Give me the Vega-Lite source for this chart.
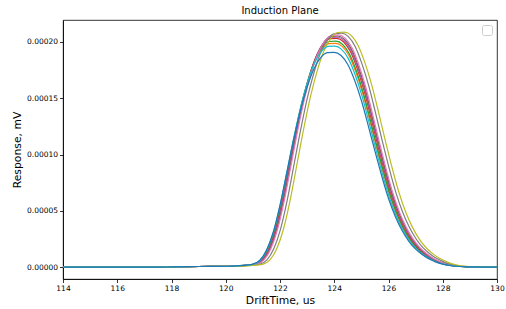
{
"$schema": "https://vega.github.io/schema/vega-lite/v6.json",
"width": 434,
"height": 259,
"autosize": {"type": "none"},
"padding": {"left": 63, "top": 20, "right": 9, "bottom": 30},
"background": "white",
"title": {"text": "Induction Plane", "fontSize": 10, "font": "DejaVu Sans", "fontWeight": "normal", "color": "black", "offset": 4},
"config": {"view": {"stroke": "black", "strokeWidth": 0.8}, "font": "DejaVu Sans"},
"data": {"values": [
{"s":"s01","t":114,"v":0},{"s":"s01","t":117.5,"v":0},{"s":"s01","t":118,"v":0.03e-5},{"s":"s01","t":119,"v":0.06e-5},{"s":"s01","t":120,"v":0.08e-5},
{"s":"s01","t":120.30,"v":0.10e-5},{"s":"s01","t":120.55,"v":0.13e-5},{"s":"s01","t":120.80,"v":0.18e-5},{"s":"s01","t":121.05,"v":0.27e-5},{"s":"s01","t":121.30,"v":0.625e-5},{"s":"s01","t":121.55,"v":1.563e-5},{"s":"s01","t":121.80,"v":3.230e-5},{"s":"s01","t":122.05,"v":5.731e-5},{"s":"s01","t":122.30,"v":8.753e-5},{"s":"s01","t":122.55,"v":11.775e-5},{"s":"s01","t":122.80,"v":14.484e-5},{"s":"s01","t":123.05,"v":16.672e-5},{"s":"s01","t":123.30,"v":18.339e-5},{"s":"s01","t":123.55,"v":19.381e-5},{"s":"s01","t":123.80,"v":19.850e-5},{"s":"s01","t":124.05,"v":19.881e-5},{"s":"s01","t":124.30,"v":19.590e-5},{"s":"s01","t":124.55,"v":18.756e-5},{"s":"s01","t":124.80,"v":17.297e-5},{"s":"s01","t":125.05,"v":15.422e-5},{"s":"s01","t":125.30,"v":13.129e-5},{"s":"s01","t":125.55,"v":10.733e-5},{"s":"s01","t":125.80,"v":8.440e-5},{"s":"s01","t":126.05,"v":6.356e-5},{"s":"s01","t":126.30,"v":4.689e-5},{"s":"s01","t":126.55,"v":3.387e-5},{"s":"s01","t":126.80,"v":2.397e-5},{"s":"s01","t":127.05,"v":1.667e-5},{"s":"s01","t":127.30,"v":1.146e-5},{"s":"s01","t":127.55,"v":0.750e-5},{"s":"s01","t":127.80,"v":0.469e-5},{"s":"s01","t":128.05,"v":0.27e-5},{"s":"s01","t":128.30,"v":0.15e-5},{"s":"s01","t":128.55,"v":0.08e-5},{"s":"s01","t":128.80,"v":0.04e-5},{"s":"s01","t":129.05,"v":0.02e-5},{"s":"s01","t":130,"v":0},

{"s":"s02","t":114,"v":0},{"s":"s02","t":117.5,"v":0},{"s":"s02","t":118,"v":0.03e-5},{"s":"s02","t":119,"v":0.06e-5},{"s":"s02","t":120,"v":0.08e-5},
{"s":"s02","t":120.31,"v":0.10e-5},{"s":"s02","t":120.56,"v":0.13e-5},{"s":"s02","t":120.81,"v":0.18e-5},{"s":"s02","t":121.06,"v":0.27e-5},{"s":"s02","t":121.31,"v":0.631e-5},{"s":"s02","t":121.56,"v":1.578e-5},{"s":"s02","t":121.81,"v":3.261e-5},{"s":"s02","t":122.06,"v":5.786e-5},{"s":"s02","t":122.31,"v":8.837e-5},{"s":"s02","t":122.56,"v":11.888e-5},{"s":"s02","t":122.81,"v":14.623e-5},{"s":"s02","t":123.06,"v":16.832e-5},{"s":"s02","t":123.31,"v":18.515e-5},{"s":"s02","t":123.56,"v":19.567e-5},{"s":"s02","t":123.81,"v":20.041e-5},{"s":"s02","t":124.06,"v":20.072e-5},{"s":"s02","t":124.31,"v":19.778e-5},{"s":"s02","t":124.56,"v":18.936e-5},{"s":"s02","t":124.81,"v":17.463e-5},{"s":"s02","t":125.06,"v":15.570e-5},{"s":"s02","t":125.31,"v":13.255e-5},{"s":"s02","t":125.56,"v":10.836e-5},{"s":"s02","t":125.81,"v":8.521e-5},{"s":"s02","t":126.06,"v":6.417e-5},{"s":"s02","t":126.31,"v":4.734e-5},{"s":"s02","t":126.56,"v":3.419e-5},{"s":"s02","t":126.81,"v":2.420e-5},{"s":"s02","t":127.06,"v":1.683e-5},{"s":"s02","t":127.31,"v":1.157e-5},{"s":"s02","t":127.56,"v":0.757e-5},{"s":"s02","t":127.81,"v":0.473e-5},{"s":"s02","t":128.06,"v":0.27e-5},{"s":"s02","t":128.31,"v":0.15e-5},{"s":"s02","t":128.56,"v":0.08e-5},{"s":"s02","t":128.81,"v":0.04e-5},{"s":"s02","t":129.06,"v":0.02e-5},{"s":"s02","t":130,"v":0},

{"s":"s03","t":114,"v":0},{"s":"s03","t":117.5,"v":0},{"s":"s03","t":118,"v":0.03e-5},{"s":"s03","t":119,"v":0.06e-5},{"s":"s03","t":120,"v":0.08e-5},
{"s":"s03","t":120.34,"v":0.10e-5},{"s":"s03","t":120.59,"v":0.13e-5},{"s":"s03","t":120.84,"v":0.18e-5},{"s":"s03","t":121.09,"v":0.27e-5},{"s":"s03","t":121.34,"v":0.639e-5},{"s":"s03","t":121.59,"v":1.598e-5},{"s":"s03","t":121.84,"v":3.302e-5},{"s":"s03","t":122.09,"v":5.858e-5},{"s":"s03","t":122.34,"v":8.946e-5},{"s":"s03","t":122.59,"v":12.035e-5},{"s":"s03","t":122.84,"v":14.804e-5},{"s":"s03","t":123.09,"v":17.04e-5},{"s":"s03","t":123.34,"v":18.744e-5},{"s":"s03","t":123.59,"v":19.809e-5},{"s":"s03","t":123.84,"v":20.288e-5},{"s":"s03","t":124.09,"v":20.320e-5},{"s":"s03","t":124.34,"v":20.022e-5},{"s":"s03","t":124.59,"v":19.17e-5},{"s":"s03","t":124.84,"v":17.679e-5},{"s":"s03","t":125.09,"v":15.762e-5},{"s":"s03","t":125.34,"v":13.419e-5},{"s":"s03","t":125.59,"v":10.970e-5},{"s":"s03","t":125.84,"v":8.627e-5},{"s":"s03","t":126.09,"v":6.497e-5},{"s":"s03","t":126.34,"v":4.793e-5},{"s":"s03","t":126.59,"v":3.461e-5},{"s":"s03","t":126.84,"v":2.450e-5},{"s":"s03","t":127.09,"v":1.704e-5},{"s":"s03","t":127.34,"v":1.172e-5},{"s":"s03","t":127.59,"v":0.767e-5},{"s":"s03","t":127.84,"v":0.479e-5},{"s":"s03","t":128.09,"v":0.27e-5},{"s":"s03","t":128.34,"v":0.15e-5},{"s":"s03","t":128.59,"v":0.08e-5},{"s":"s03","t":128.84,"v":0.04e-5},{"s":"s03","t":129.09,"v":0.02e-5},{"s":"s03","t":130,"v":0},

{"s":"s04","t":114,"v":0},{"s":"s04","t":117.5,"v":0},{"s":"s04","t":118,"v":0.03e-5},{"s":"s04","t":119,"v":0.06e-5},{"s":"s04","t":120,"v":0.08e-5},
{"s":"s04","t":120.36,"v":0.10e-5},{"s":"s04","t":120.61,"v":0.13e-5},{"s":"s04","t":120.86,"v":0.18e-5},{"s":"s04","t":121.11,"v":0.27e-5},{"s":"s04","t":121.36,"v":0.643e-5},{"s":"s04","t":121.61,"v":1.607e-5},{"s":"s04","t":121.86,"v":3.320e-5},{"s":"s04","t":122.11,"v":5.891e-5},{"s":"s04","t":122.36,"v":8.996e-5},{"s":"s04","t":122.61,"v":12.102e-5},{"s":"s04","t":122.86,"v":14.887e-5},{"s":"s04","t":123.11,"v":17.136e-5},{"s":"s04","t":123.36,"v":18.850e-5},{"s":"s04","t":123.61,"v":19.921e-5},{"s":"s04","t":123.86,"v":20.403e-5},{"s":"s04","t":124.11,"v":20.435e-5},{"s":"s04","t":124.36,"v":20.135e-5},{"s":"s04","t":124.61,"v":19.278e-5},{"s":"s04","t":124.86,"v":17.779e-5},{"s":"s04","t":125.11,"v":15.851e-5},{"s":"s04","t":125.36,"v":13.495e-5},{"s":"s04","t":125.61,"v":11.031e-5},{"s":"s04","t":125.86,"v":8.675e-5},{"s":"s04","t":126.11,"v":6.533e-5},{"s":"s04","t":126.36,"v":4.820e-5},{"s":"s04","t":126.61,"v":3.481e-5},{"s":"s04","t":126.86,"v":2.463e-5},{"s":"s04","t":127.11,"v":1.714e-5},{"s":"s04","t":127.36,"v":1.178e-5},{"s":"s04","t":127.61,"v":0.771e-5},{"s":"s04","t":127.86,"v":0.482e-5},{"s":"s04","t":128.11,"v":0.27e-5},{"s":"s04","t":128.36,"v":0.15e-5},{"s":"s04","t":128.61,"v":0.08e-5},{"s":"s04","t":128.86,"v":0.04e-5},{"s":"s04","t":129.11,"v":0.02e-5},{"s":"s04","t":130,"v":0},

{"s":"s05","t":114,"v":0},{"s":"s05","t":117.5,"v":0},{"s":"s05","t":118,"v":0.03e-5},{"s":"s05","t":119,"v":0.06e-5},{"s":"s05","t":120,"v":0.08e-5},
{"s":"s05","t":120.38,"v":0.10e-5},{"s":"s05","t":120.63,"v":0.13e-5},{"s":"s05","t":120.88,"v":0.18e-5},{"s":"s05","t":121.13,"v":0.27e-5},{"s":"s05","t":121.38,"v":0.646e-5},{"s":"s05","t":121.63,"v":1.614e-5},{"s":"s05","t":121.88,"v":3.336e-5},{"s":"s05","t":122.13,"v":5.918e-5},{"s":"s05","t":122.38,"v":9.038e-5},{"s":"s05","t":122.63,"v":12.159e-5},{"s":"s05","t":122.88,"v":14.956e-5},{"s":"s05","t":123.13,"v":17.216e-5},{"s":"s05","t":123.38,"v":18.938e-5},{"s":"s05","t":123.63,"v":20.014e-5},{"s":"s05","t":123.88,"v":20.498e-5},{"s":"s05","t":124.13,"v":20.530e-5},{"s":"s05","t":124.38,"v":20.229e-5},{"s":"s05","t":124.63,"v":19.368e-5},{"s":"s05","t":124.88,"v":17.862e-5},{"s":"s05","t":125.13,"v":15.925e-5},{"s":"s05","t":125.38,"v":13.558e-5},{"s":"s05","t":125.63,"v":11.083e-5},{"s":"s05","t":125.88,"v":8.716e-5},{"s":"s05","t":126.13,"v":6.564e-5},{"s":"s05","t":126.38,"v":4.842e-5},{"s":"s05","t":126.63,"v":3.497e-5},{"s":"s05","t":126.88,"v":2.475e-5},{"s":"s05","t":127.13,"v":1.722e-5},{"s":"s05","t":127.38,"v":1.184e-5},{"s":"s05","t":127.63,"v":0.775e-5},{"s":"s05","t":127.88,"v":0.484e-5},{"s":"s05","t":128.13,"v":0.27e-5},{"s":"s05","t":128.38,"v":0.15e-5},{"s":"s05","t":128.63,"v":0.08e-5},{"s":"s05","t":128.88,"v":0.04e-5},{"s":"s05","t":129.13,"v":0.02e-5},{"s":"s05","t":130,"v":0},

{"s":"s06","t":114,"v":0},{"s":"s06","t":117.5,"v":0},{"s":"s06","t":118,"v":0.03e-5},{"s":"s06","t":119,"v":0.06e-5},{"s":"s06","t":120,"v":0.08e-5},
{"s":"s06","t":120.41,"v":0.10e-5},{"s":"s06","t":120.66,"v":0.13e-5},{"s":"s06","t":120.91,"v":0.18e-5},{"s":"s06","t":121.16,"v":0.27e-5},{"s":"s06","t":121.41,"v":0.649e-5},{"s":"s06","t":121.66,"v":1.622e-5},{"s":"s06","t":121.91,"v":3.351e-5},{"s":"s06","t":122.16,"v":5.946e-5},{"s":"s06","t":122.41,"v":9.080e-5},{"s":"s06","t":122.66,"v":12.215e-5},{"s":"s06","t":122.91,"v":15.026e-5},{"s":"s06","t":123.16,"v":17.296e-5},{"s":"s06","t":123.41,"v":19.026e-5},{"s":"s06","t":123.66,"v":20.107e-5},{"s":"s06","t":123.91,"v":20.593e-5},{"s":"s06","t":124.16,"v":20.625e-5},{"s":"s06","t":124.41,"v":20.323e-5},{"s":"s06","t":124.66,"v":19.458e-5},{"s":"s06","t":124.91,"v":17.945e-5},{"s":"s06","t":125.16,"v":15.999e-5},{"s":"s06","t":125.41,"v":13.621e-5},{"s":"s06","t":125.66,"v":11.134e-5},{"s":"s06","t":125.91,"v":8.756e-5},{"s":"s06","t":126.16,"v":6.594e-5},{"s":"s06","t":126.41,"v":4.865e-5},{"s":"s06","t":126.66,"v":3.513e-5},{"s":"s06","t":126.91,"v":2.486e-5},{"s":"s06","t":127.16,"v":1.730e-5},{"s":"s06","t":127.41,"v":1.189e-5},{"s":"s06","t":127.66,"v":0.778e-5},{"s":"s06","t":127.91,"v":0.486e-5},{"s":"s06","t":128.16,"v":0.27e-5},{"s":"s06","t":128.41,"v":0.15e-5},{"s":"s06","t":128.66,"v":0.08e-5},{"s":"s06","t":128.91,"v":0.04e-5},{"s":"s06","t":129.16,"v":0.02e-5},{"s":"s06","t":130,"v":0},

{"s":"s07","t":114,"v":0},{"s":"s07","t":117.5,"v":0},{"s":"s07","t":118,"v":0.03e-5},{"s":"s07","t":119,"v":0.06e-5},{"s":"s07","t":120,"v":0.08e-5},
{"s":"s07","t":120.52,"v":0.10e-5},{"s":"s07","t":120.77,"v":0.13e-5},{"s":"s07","t":121.02,"v":0.18e-5},{"s":"s07","t":121.27,"v":0.27e-5},{"s":"s07","t":121.52,"v":0.653e-5},{"s":"s07","t":121.77,"v":1.634e-5},{"s":"s07","t":122.02,"v":3.376e-5},{"s":"s07","t":122.27,"v":5.990e-5},{"s":"s07","t":122.52,"v":9.148e-5},{"s":"s07","t":122.77,"v":12.306e-5},{"s":"s07","t":123.02,"v":15.137e-5},{"s":"s07","t":123.27,"v":17.424e-5},{"s":"s07","t":123.52,"v":19.166e-5},{"s":"s07","t":123.77,"v":20.255e-5},{"s":"s07","t":124.02,"v":20.745e-5},{"s":"s07","t":124.27,"v":20.778e-5},{"s":"s07","t":124.52,"v":20.473e-5},{"s":"s07","t":124.77,"v":19.602e-5},{"s":"s07","t":125.02,"v":18.077e-5},{"s":"s07","t":125.27,"v":16.117e-5},{"s":"s07","t":125.52,"v":13.721e-5},{"s":"s07","t":125.77,"v":11.217e-5},{"s":"s07","t":126.02,"v":8.821e-5},{"s":"s07","t":126.27,"v":6.643e-5},{"s":"s07","t":126.52,"v":4.901e-5},{"s":"s07","t":126.77,"v":3.539e-5},{"s":"s07","t":127.02,"v":2.505e-5},{"s":"s07","t":127.27,"v":1.742e-5},{"s":"s07","t":127.52,"v":1.198e-5},{"s":"s07","t":127.77,"v":0.784e-5},{"s":"s07","t":128.02,"v":0.490e-5},{"s":"s07","t":128.27,"v":0.27e-5},{"s":"s07","t":128.52,"v":0.15e-5},{"s":"s07","t":128.77,"v":0.08e-5},{"s":"s07","t":129.02,"v":0.04e-5},{"s":"s07","t":129.27,"v":0.02e-5},{"s":"s07","t":130,"v":0},

{"s":"s08","t":114,"v":0},{"s":"s08","t":117.5,"v":0},{"s":"s08","t":118,"v":0.03e-5},{"s":"s08","t":119,"v":0.06e-5},{"s":"s08","t":120,"v":0.08e-5},
{"s":"s08","t":120.63,"v":0.10e-5},{"s":"s08","t":120.88,"v":0.13e-5},{"s":"s08","t":121.13,"v":0.18e-5},{"s":"s08","t":121.38,"v":0.27e-5},{"s":"s08","t":121.63,"v":0.656e-5},{"s":"s08","t":121.88,"v":1.641e-5},{"s":"s08","t":122.13,"v":3.391e-5},{"s":"s08","t":122.38,"v":6.017e-5},{"s":"s08","t":122.63,"v":9.190e-5},{"s":"s08","t":122.88,"v":12.362e-5},{"s":"s08","t":123.13,"v":15.207e-5},{"s":"s08","t":123.38,"v":17.504e-5},{"s":"s08","t":123.63,"v":19.254e-5},{"s":"s08","t":123.88,"v":20.348e-5},{"s":"s08","t":124.13,"v":20.841e-5},{"s":"s08","t":124.38,"v":20.874e-5},{"s":"s08","t":124.63,"v":20.567e-5},{"s":"s08","t":124.88,"v":19.692e-5},{"s":"s08","t":125.13,"v":18.160e-5},{"s":"s08","t":125.38,"v":16.191e-5},{"s":"s08","t":125.63,"v":13.784e-5},{"s":"s08","t":125.88,"v":11.268e-5},{"s":"s08","t":126.13,"v":8.861e-5},{"s":"s08","t":126.38,"v":6.673e-5},{"s":"s08","t":126.63,"v":4.923e-5},{"s":"s08","t":126.88,"v":3.556e-5},{"s":"s08","t":127.13,"v":2.516e-5},{"s":"s08","t":127.38,"v":1.750e-5},{"s":"s08","t":127.63,"v":1.203e-5},{"s":"s08","t":127.88,"v":0.788e-5},{"s":"s08","t":128.13,"v":0.492e-5},{"s":"s08","t":128.38,"v":0.27e-5},{"s":"s08","t":128.63,"v":0.15e-5},{"s":"s08","t":128.88,"v":0.08e-5},{"s":"s08","t":129.13,"v":0.04e-5},{"s":"s08","t":129.38,"v":0.02e-5},{"s":"s08","t":130,"v":0},

{"s":"s09","t":114,"v":0},{"s":"s09","t":117.5,"v":0},{"s":"s09","t":118,"v":0.03e-5},{"s":"s09","t":119,"v":0.06e-5},{"s":"s09","t":120,"v":0.08e-5},
{"s":"s09","t":120.27,"v":0.10e-5},{"s":"s09","t":120.52,"v":0.13e-5},{"s":"s09","t":120.77,"v":0.18e-5},{"s":"s09","t":121.02,"v":0.27e-5},{"s":"s09","t":121.27,"v":0.617e-5},{"s":"s09","t":121.52,"v":1.544e-5},{"s":"s09","t":121.77,"v":3.190e-5},{"s":"s09","t":122.02,"v":5.660e-5},{"s":"s09","t":122.27,"v":8.644e-5},{"s":"s09","t":122.52,"v":11.628e-5},{"s":"s09","t":122.77,"v":14.303e-5},{"s":"s09","t":123.02,"v":16.464e-5},{"s":"s09","t":123.27,"v":18.110e-5},{"s":"s09","t":123.52,"v":19.139e-5},{"s":"s09","t":123.77,"v":19.602e-5},{"s":"s09","t":124.02,"v":19.633e-5},{"s":"s09","t":124.27,"v":19.345e-5},{"s":"s09","t":124.52,"v":18.522e-5},{"s":"s09","t":124.77,"v":17.081e-5},{"s":"s09","t":125.02,"v":15.229e-5},{"s":"s09","t":125.27,"v":12.965e-5},{"s":"s09","t":125.52,"v":10.599e-5},{"s":"s09","t":125.77,"v":8.335e-5},{"s":"s09","t":126.02,"v":6.277e-5},{"s":"s09","t":126.27,"v":4.631e-5},{"s":"s09","t":126.52,"v":3.344e-5},{"s":"s09","t":126.77,"v":2.367e-5},{"s":"s09","t":127.02,"v":1.646e-5},{"s":"s09","t":127.27,"v":1.132e-5},{"s":"s09","t":127.52,"v":0.741e-5},{"s":"s09","t":127.77,"v":0.463e-5},{"s":"s09","t":128.02,"v":0.27e-5},{"s":"s09","t":128.27,"v":0.15e-5},{"s":"s09","t":128.52,"v":0.08e-5},{"s":"s09","t":128.77,"v":0.04e-5},{"s":"s09","t":129.02,"v":0.02e-5},{"s":"s09","t":130,"v":0},

{"s":"s10","t":114,"v":0},{"s":"s10","t":117.5,"v":0},{"s":"s10","t":118,"v":0.03e-5},{"s":"s10","t":119,"v":0.06e-5},{"s":"s10","t":120,"v":0.08e-5},
{"s":"s10","t":120.25,"v":0.10e-5},{"s":"s10","t":120.5,"v":0.13e-5},{"s":"s10","t":120.75,"v":0.18e-5},{"s":"s10","t":121.0,"v":0.27e-5},{"s":"s10","t":121.25,"v":0.6e-5},{"s":"s10","t":121.5,"v":1.5e-5},{"s":"s10","t":121.75,"v":3.1e-5},{"s":"s10","t":122.0,"v":5.5e-5},{"s":"s10","t":122.25,"v":8.4e-5},{"s":"s10","t":122.5,"v":11.3e-5},{"s":"s10","t":122.75,"v":13.9e-5},{"s":"s10","t":123.0,"v":16.0e-5},{"s":"s10","t":123.25,"v":17.6e-5},{"s":"s10","t":123.5,"v":18.6e-5},{"s":"s10","t":123.75,"v":19.05e-5},{"s":"s10","t":124.0,"v":19.08e-5},{"s":"s10","t":124.25,"v":18.8e-5},{"s":"s10","t":124.5,"v":18.0e-5},{"s":"s10","t":124.75,"v":16.6e-5},{"s":"s10","t":125.0,"v":14.8e-5},{"s":"s10","t":125.25,"v":12.6e-5},{"s":"s10","t":125.5,"v":10.3e-5},{"s":"s10","t":125.75,"v":8.1e-5},{"s":"s10","t":126.0,"v":6.1e-5},{"s":"s10","t":126.25,"v":4.5e-5},{"s":"s10","t":126.5,"v":3.25e-5},{"s":"s10","t":126.75,"v":2.3e-5},{"s":"s10","t":127.0,"v":1.6e-5},{"s":"s10","t":127.25,"v":1.1e-5},{"s":"s10","t":127.5,"v":0.72e-5},{"s":"s10","t":127.75,"v":0.45e-5},{"s":"s10","t":128.0,"v":0.27e-5},{"s":"s10","t":128.25,"v":0.15e-5},{"s":"s10","t":128.5,"v":0.08e-5},{"s":"s10","t":128.75,"v":0.04e-5},{"s":"s10","t":129.0,"v":0.02e-5},{"s":"s10","t":130,"v":0}
]},
"layer": [
{
"mark": {"type": "line", "strokeWidth": 1.2, "interpolate": "monotone", "clip": true},
"encoding": {
"x": {"field": "t", "type": "quantitative", "scale": {"domain": [114, 130], "nice": false, "zero": false},
 "axis": {"title": "DriftTime, us", "values": [114,116,118,120,122,124,126,128,130], "format": "d", "grid": false, "domainColor": "black", "domainWidth": 0.8, "tickColor": "black", "tickSize": 3.5, "tickWidth": 0.8, "labelFontSize": 7.5, "labelColor": "black", "labelPadding": 2, "labelFlush": false, "titleFontSize": 10.8, "titleFontWeight": "normal", "titleColor": "black", "titlePadding": 2}},
"y": {"field": "v", "type": "quantitative", "scale": {"domain": [-0.0000105, 0.0002195], "nice": false, "zero": false},
 "axis": {"title": "Response, mV", "values": [0, 0.00005, 0.0001, 0.00015, 0.0002], "format": ".5f", "grid": false, "domainColor": "black", "domainWidth": 0.8, "tickColor": "black", "tickSize": 3.5, "tickWidth": 0.8, "labelFontSize": 7.5, "labelColor": "black", "labelPadding": 2, "labelFlush": false, "titleFontSize": 10.8, "titleFontWeight": "normal", "titleColor": "black", "titlePadding": 4}},
"color": {"field": "s", "type": "nominal", "legend": null, "scale": {"domain": ["s01","s02","s03","s04","s05","s06","s07","s08","s09","s10"], "range": ["#ff7f0e","#2ca02c","#d62728","#9467bd","#8c564b","#e377c2","#7f7f7f","#bcbd22","#17becf","#1f77b4"]}}
}
},
{
"mark": {"type": "point", "opacity": 0},
"encoding": {
"x": {"field": "t", "type": "quantitative"},
"y": {"field": "v", "type": "quantitative"},
"shape": {"datum": " ", "legend": {"title": null, "orient": "top-right", "offset": 5, "padding": 3, "strokeColor": "#cccccc", "fillColor": "white", "cornerRadius": 2, "symbolOpacity": 0, "symbolSize": 12, "symbolStrokeWidth": 0, "labelExpr": "''", "labelFontSize": 1, "labelOffset": 0}}
}
}
]
}
